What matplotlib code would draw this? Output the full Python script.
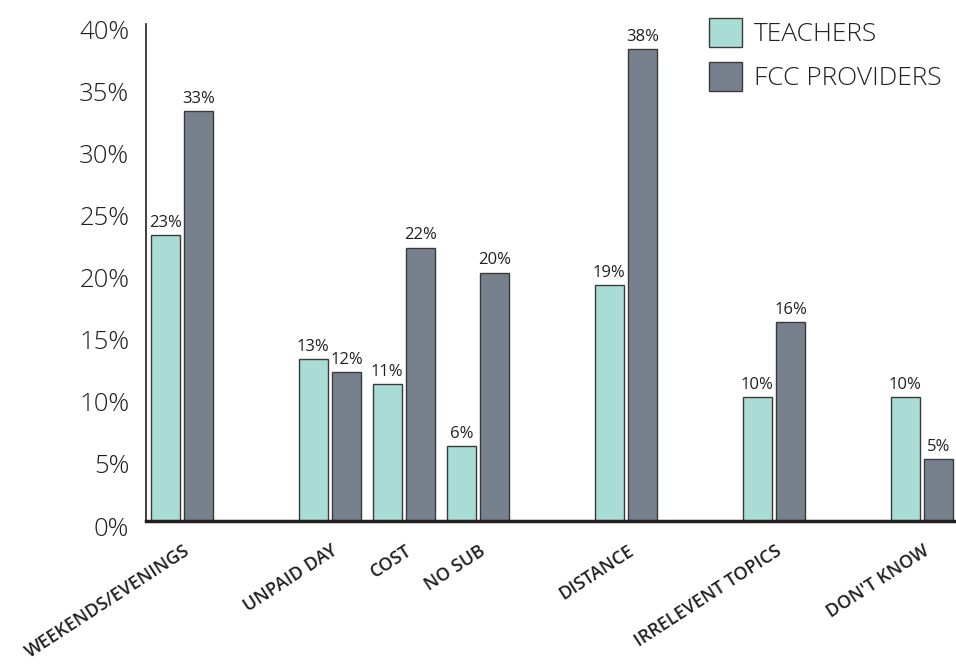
import matplotlib
matplotlib.use("Agg")
import matplotlib.pyplot as plt
import matplotlib.transforms as mtransforms
from matplotlib.patches import Patch

plt.rcParams['font.family'] = ['Open Sans', 'DejaVu Sans']

# data
categories = ["WEEKENDS/EVENINGS", "UNPAID DAY", "COST", "NO SUB",
              "DISTANCE", "IRRELEVENT TOPICS", "DON'T KNOW"]
teachers = [23, 13, 11, 6, 19, 10, 10]
fcc_providers = [33, 12, 22, 20, 38, 16, 5]
y_ticks = [0, 5, 10, 15, 20, 25, 30, 35, 40]

# layout: groups are unevenly spaced in the original
x_pos = [0, 2, 3, 4, 6, 8, 10]
width = 0.4
offset = 0.225

teal = '#aadcd6'
slate = '#77818e'
edge = '#3a3a3a'
text_col = '#231f20'

fig = plt.figure(figsize=(9.56, 6.69), dpi=100)
ax = fig.add_axes([146 / 956, 148 / 669, 1 - 146 / 956, (645 - 148) / 669])

xs_t = [x - offset for x in x_pos]
xs_f = [x + offset for x in x_pos]
bars_t = ax.bar(xs_t, teachers, width, color=teal, edgecolor=edge, linewidth=1, zorder=2)
bars_f = ax.bar(xs_f, fcc_providers, width, color=slate, edgecolor=edge, linewidth=1, zorder=2)

for bars, vals in ((bars_t, teachers), (bars_f, fcc_providers)):
    for b, v in zip(bars, vals):
        ax.annotate(f"{v}%", (b.get_x() + b.get_width() / 2, v),
                    xytext=(0, 3), textcoords='offset points',
                    ha='center', va='bottom', fontsize=12, color=text_col)

ax.set_xlim(-0.486, 10.46)
ax.set_ylim(0, 40)
ax.set_yticks(y_ticks)
ax.set_yticklabels([f"{t}%" for t in y_ticks], fontsize=18.5, color=text_col,
                   fontweight='light')
ax.tick_params(axis='y', length=0, pad=12)
shift = mtransforms.ScaledTranslation(0, -5 / 100, fig.dpi_scale_trans)
for lab in ax.get_yticklabels():
    lab.set_transform(lab.get_transform() + shift)

ax.set_xticks(x_pos)
ax.set_xticklabels(categories, rotation=33, ha='right', va='top',
                   rotation_mode='anchor', fontsize=13, fontweight='semibold',
                   color=text_col)
ax.tick_params(axis='x', length=0, pad=15)
xshift = mtransforms.ScaledTranslation(1 / 100, 0, fig.dpi_scale_trans)
for lab in ax.get_xticklabels():
    lab.set_transform(lab.get_transform() + xshift)

for s in ('top', 'right'):
    ax.spines[s].set_visible(False)
ax.spines['left'].set_color(text_col)
ax.spines['left'].set_linewidth(1.2)
ax.spines['bottom'].set_color(text_col)
ax.spines['bottom'].set_linewidth(2.5)
ax.spines['bottom'].set_zorder(3)

handles = [Patch(facecolor=teal, edgecolor=edge, linewidth=1, label='TEACHERS'),
           Patch(facecolor=slate, edgecolor=edge, linewidth=1, label='FCC PROVIDERS')]
fig.legend(handles=handles, loc='upper left', bbox_to_anchor=(709 / 956, 1 - 18 / 669),
           frameon=False, handlelength=1.25, handleheight=1.3,
           handletextpad=0.45, labelspacing=0.55, borderaxespad=0, borderpad=0,
           labelcolor=text_col, prop={'weight': 'light', 'size': 19})

fig.savefig('out.png', dpi=100)
